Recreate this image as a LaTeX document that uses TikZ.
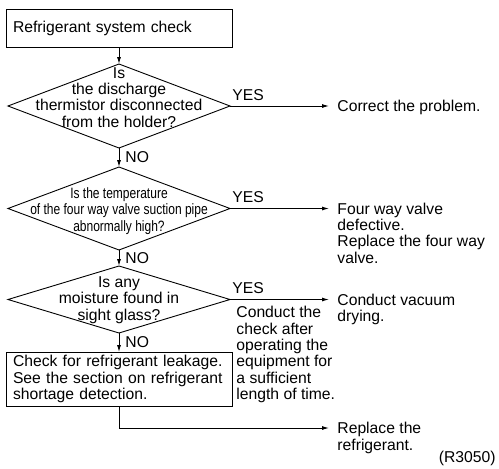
\documentclass[tikz,border=0pt]{standalone}
\usepackage{fontspec}
\setmainfont{Liberation Sans}
\newfontfamily\narrowfont[FakeStretch=0.8]{Liberation Sans}
\usetikzlibrary{shapes.geometric,arrows.meta}
\begin{document}
\begin{tikzpicture}[x=1pt,y=-1pt,>={Latex[length=7pt,width=4pt]},line width=0.9pt,
  font=\fontsize{15.7pt}{16.3pt}\selectfont,
  box/.style={rectangle,draw=black,minimum width=226pt,text width=212pt,inner xsep=7pt,align=left,outer sep=0pt},
  ask/.style={diamond,draw=black,minimum width=222pt,inner sep=0pt,outer sep=0pt},
  txt/.style={inner sep=0pt,align=center},
  res/.style={anchor=north west,inner xsep=8pt,inner ysep=0pt,yshift=6pt,align=left},
  yes/.style={pos=0,anchor=south west,inner xsep=2pt,inner ysep=5pt},
  no/.style={right,inner xsep=6pt,inner ysep=0pt}]
\useasboundingbox (0,0) rectangle (499,469);

\node (b1) at (119,28)[box,minimum height=38pt]{Refrigerant system check};
\node (q1) at (119,106)[ask,minimum height=84pt]{};
\node (t1) at (119,97.5)[txt]{Is\\the discharge\\thermistor disconnected\\from the holder?};
\node (q2) at (119,208.5)[ask,minimum height=83pt]{};
\node (t2) at (119,211)[txt,font=\narrowfont\fontsize{15pt}{16.3pt}\selectfont]{Is the temperature\\of the four way valve suction pipe\\abnormally high?};
\node (q3) at (119,299.5)[ask,minimum height=67pt]{};
\node (t3) at (119,300)[txt]{Is any\\moisture found in\\sight glass?};
\node (b2) at (119,379)[box,minimum height=54pt]{Check for refrigerant leakage.\\See the section on refrigerant\\shortage detection.};

\coordinate (e1) at (329,106);
\coordinate (e2) at (329,208.5);
\coordinate (e3) at (329,299.5);
\coordinate (e5) at (329,428);
\node (r1) at (e1)[res]{Correct the problem.};
\node (r2) at (e2)[res]{Four way valve\\defective.\\Replace the four way\\valve.};
\node (r3) at (e3)[res]{Conduct vacuum\\drying.};
\node (r4) at (236,306)[anchor=north west,inner sep=0pt,align=left]{Conduct the\\check after\\operating the\\equipment for\\a sufficient\\length of time.};
\node (r5) at (e5)[res]{Replace the\\refrigerant.};
\node (code) at (496,458)[anchor=east,inner sep=0pt]{(R3050)};

\draw[->](b1)--(q1);
\draw[->](q1)--node[no]{NO}(q2);
\draw[->](q2)--node[no]{NO}(q3);
\draw[->](q3)--node[no]{NO}(b2);
\draw[->](q1)--node[yes]{YES}(e1);
\draw[->](q2)--node[yes]{YES}(e2);
\draw[->](q3)--node[yes]{YES}(e3);
\draw[->](b2)|-(e5);
\end{tikzpicture}
\end{document}
